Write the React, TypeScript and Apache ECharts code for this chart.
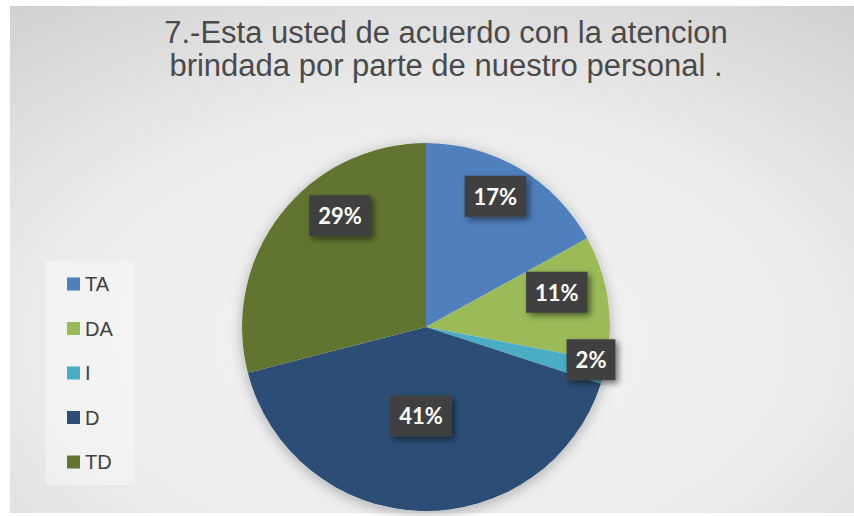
import React, { useEffect, useRef } from "react";
import * as echarts from "echarts";

const titleLines = [
  "7.-Esta usted de acuerdo con la atencion",
  "brindada por parte de nuestro personal .",
];
const categories = ["TA", "DA", "I", "D", "TD"];
const percentages = [17, 11, 2, 41, 29];
const sliceColors = ["#4f7fbc", "#9bbb59", "#4bacc6", "#2c4e76", "#617531"];
// label nudges (px) away from the library's default inside position
const labelNudges: [number, number][] = [
  [21, -49],
  [37, -20],
  [73, 9],
  [-2, -6],
  [-11, -53],
];

export default function App() {
  const ref = useRef<HTMLDivElement>(null);
  useEffect(() => {
    if (!ref.current) return;
    const chart = echarts.init(ref.current, undefined, { renderer: "svg" });
    chart.setOption({
      animation: false,
      graphic: [
        {
          type: "rect",
          z: -10,
          silent: true,
          shape: { x: 10, y: 6, width: 844, height: 507 },
          style: {
            fill: new echarts.graphic.RadialGradient(0.5, 0.66, 1.05, [
              { offset: 0, color: "#f5f5f5" },
              { offset: 0.45, color: "#ebebeb" },
              { offset: 1, color: "#c0c0c0" },
            ]),
          },
        },
      ],
      title: {
        text: titleLines.join("\n"),
        left: 446,
        top: 16,
        padding: 0,
        textAlign: "center",
        textStyle: {
          fontFamily: "Liberation Sans",
          fontSize: 31,
          fontWeight: "normal",
          lineHeight: 33,
          color: "#4a4a4a",
        },
      },
      legend: {
        orient: "vertical",
        left: 46,
        top: 261,
        data: categories,
        icon: "rect",
        itemWidth: 13,
        itemHeight: 13,
        itemGap: 24.5,
        padding: [13, 22, 13, 21],
        backgroundColor: "rgba(255,255,255,0.35)",
        textStyle: {
          fontFamily: "Liberation Sans",
          fontSize: 20,
          lineHeight: 19,
          color: "#404040",
        },
      },
      series: [
        {
          type: "pie",
          silent: true,
          center: [426, 327],
          radius: 184,
          z: 1,
          label: { show: false },
          labelLine: { show: false },
          itemStyle: {
            color: "#ffffff",
            shadowBlur: 14,
            shadowOffsetY: 3,
            shadowColor: "rgba(0,0,0,0.28)",
          },
          data: [{ value: 1, name: "__bg" }],
        },
        {
          type: "pie",
          center: [426, 327],
          radius: 184,
          startAngle: 90,
          clockwise: true,
          z: 2,
          itemStyle: { borderWidth: 0 },
          label: {
            show: true,
            position: "inside",
            formatter: "{c}%",
            fontFamily: "Lato",
            fontWeight: "bold",
            fontSize: 22,
            lineHeight: 22,
            color: "#ffffff",
            backgroundColor: "#414141",
            padding: [10, 9, 9, 9],
            shadowColor: "rgba(0,0,0,0.5)",
            shadowBlur: 6,
            shadowOffsetX: 3,
            shadowOffsetY: 3,
          },
          labelLine: { show: false },
          labelLayout: (params: any) => {
            const n = labelNudges[params.dataIndex] || [0, 0];
            return { dx: n[0], dy: n[1] };
          },
          data: categories.map((name, i) => ({
            name,
            value: percentages[i],
            itemStyle: { color: sliceColors[i] },
          })),
        },
      ],
    });
    return () => chart.dispose();
  }, []);
  return (
    <div
      ref={ref}
      style={{ position: "fixed", left: 0, top: 0, width: 854, height: 516, background: "#ffffff" }}
    />
  );
}
